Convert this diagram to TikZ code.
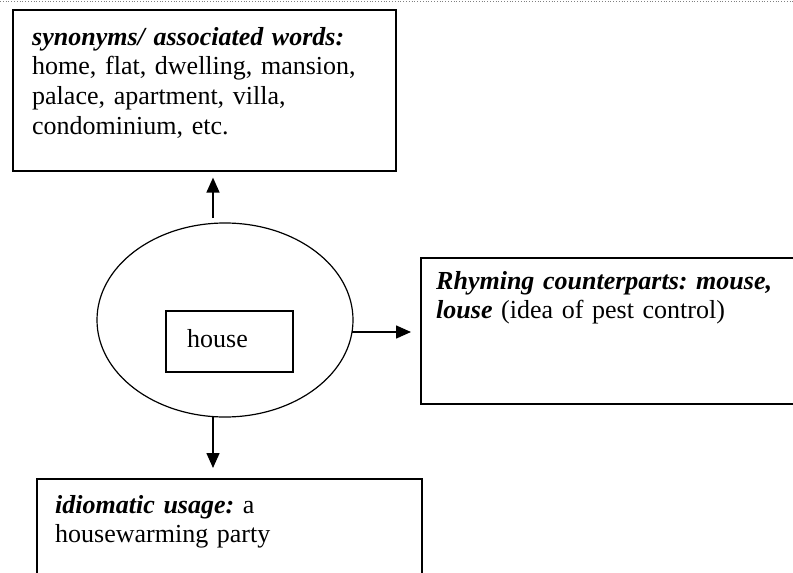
\documentclass[tikz,border=0pt]{standalone}
\usepackage{fontspec}
\setmainfont{Liberation Serif}
\frenchspacing
\usetikzlibrary{arrows.meta,shapes.geometric}
\begin{document}
\begin{tikzpicture}[x=1pt,y=-1pt,
  frame/.style={draw=black, line width=1.6pt, inner sep=0pt, anchor=north west},
  body/.style={anchor=base west, inner sep=0pt, text width=#1, align=left,
    font=\fontsize{26}{29.7}\selectfont},
  link/.style={-{Triangle[length=15pt,width=13pt]}, line width=1.5pt},
]
\useasboundingbox (0,0) rectangle (793,573);
\clip (0,0) rectangle (793,573);

% dotted rule along the top edge
\draw[gray, dotted, line width=0.8pt] (0,1.2) -- (793,1.2);

% synonyms box
\node[frame, minimum width=383pt, minimum height=161pt] (syn) at (12,9) {};
\node[body=360pt] (syn-text) at (32,45)
  {\textbf{\textit{synonyms/ associated words:}}\\
   home, flat, dwelling, mansion,\\
   palace, apartment, villa,\\
   condominium, etc.};

% central word
\node[draw, ellipse, line width=1.2pt, inner sep=0pt,
      minimum width=256pt, minimum height=194pt] (core) at (225,320) {};
\node[draw, line width=1.2pt, inner sep=0pt,
      minimum width=127pt, minimum height=61pt] (word) at (229.5,341.5) {};
\node[anchor=base west, inner sep=0pt, font=\fontsize{26}{29.7}\selectfont]
  (word-text) at (187,347) {house};

% rhyming box
\node[frame, minimum width=385pt, minimum height=146pt] (rhyme) at (420,257) {};
\node[body=360pt] (rhyme-text) at (436,289)
  {\textbf{\textit{Rhyming counterparts: mouse,}}\\
   \textbf{\textit{louse}} (idea of pest control)};

% idiom box
\node[frame, minimum width=385pt, minimum height=120pt] (idiom) at (36,478) {};
\node[body=360pt] (idiom-text) at (55,513)
  {\textbf{\textit{idiomatic usage:}} a\\
   housewarming party};

% connectors
\coordinate (up-start) at (213,218);
\coordinate (right-start) at (352,332);
\coordinate (down-start) at (213,416);
\draw[link, shorten >=6pt] (up-start) -- (up-start |- syn.south);
\draw[link, shorten >=9pt] (right-start) -- (right-start -| rhyme.west);
\draw[link, shorten >=10pt] (down-start) -- (down-start |- idiom.north);
\end{tikzpicture}
\end{document}
